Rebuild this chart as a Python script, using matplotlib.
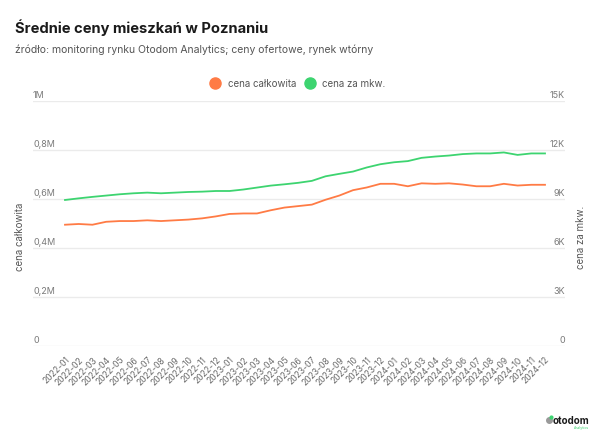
import matplotlib
matplotlib.use("Agg")
import matplotlib.pyplot as plt
import matplotlib.transforms as mtransforms
from matplotlib.lines import Line2D

months = [f"{y}-{m:02d}" for y in (2022, 2023, 2024) for m in range(1, 13)]

total_price = [0.495, 0.498, 0.495, 0.507, 0.510, 0.510, 0.513, 0.510, 0.513, 0.516,
               0.521, 0.529, 0.539, 0.541, 0.541, 0.554, 0.565, 0.571, 0.577, 0.597,
               0.614, 0.636, 0.647, 0.662, 0.662, 0.652, 0.664, 0.662, 0.664, 0.659,
               0.652, 0.652, 0.662, 0.655, 0.658, 0.658]
total_price = [v * 1e6 for v in total_price]

price_sqm = [8.94, 9.04, 9.13, 9.21, 9.29, 9.35, 9.39, 9.35, 9.39, 9.43,
             9.45, 9.49, 9.49, 9.58, 9.70, 9.82, 9.90, 9.99, 10.11, 10.39,
             10.54, 10.68, 10.93, 11.13, 11.25, 11.32, 11.52, 11.60, 11.66, 11.75,
             11.79, 11.79, 11.85, 11.70, 11.79, 11.79]
price_sqm = [v * 1000 for v in price_sqm]

left_ticks = [0, 200000, 400000, 600000, 800000, 1000000]
left_labels = ["0", "0,2M", "0,4M", "0,6M", "0,8M", "1M"]
right_ticks = [0, 3000, 6000, 9000, 12000, 15000]
right_labels = ["0", "3K", "6K", "9K", "12K", "15K"]

title = "Średnie ceny mieszkań w Poznaniu"
subtitle = "źródło: monitoring rynku Otodom Analytics; ceny ofertowe, rynek wtórny"
series_names = ["cena całkowita", "cena za mkw."]
colors = ["#FF7B45", "#3DD470"]

plt.rcParams['font.family'] = ['Inter', 'DejaVu Sans']

W, H = 600, 435
fig = plt.figure(figsize=(6, 4.35), dpi=100)
ax = fig.add_axes([33 / W, 1 - 347 / H, (565 - 33) / W, (347 - 102) / H])
ax2 = ax.twinx()

x = list(range(len(months)))
ax.plot(x, total_price, color=colors[0], lw=1.3, zorder=3)
ax2.plot(x, price_sqm, color=colors[1], lw=1.3, zorder=3)

ax.set_xlim(-32 / 13.714, 35 + 20 / 13.714)
ax.set_ylim(0, 1000000)
ax2.set_ylim(0, 15000)

for a in (ax, ax2):
    for s in a.spines.values():
        s.set_visible(False)
    a.tick_params(axis='y', length=0, labelleft=False, labelright=False)
    a.set_yticks([])

for t in left_ticks:
    ax.axhline(t, color="#EBEBEB", lw=1, zorder=1)

tick_col = "#7A7A7A"
off = mtransforms.ScaledTranslation(0, 1.5 / 72, fig.dpi_scale_trans)
trL = mtransforms.blended_transform_factory(ax.transAxes, ax.transData)
for t, lab in zip(left_ticks, left_labels):
    ax.text(0.0, t, lab, transform=trL + off,
            ha='left', va='bottom', fontsize=6.5, color=tick_col)
trR = mtransforms.blended_transform_factory(ax2.transAxes, ax2.transData)
for t, lab in zip(right_ticks, right_labels):
    ax2.text(1.0, t, lab, transform=trR + off,
             ha='right', va='bottom', fontsize=6.5, color=tick_col)

ax.set_xticks(x)
ax.set_xticklabels(months, rotation=45, ha='right', rotation_mode='anchor',
                   fontsize=6.2, color="#6A6A6A")
ax.tick_params(axis='x', length=0, pad=6)

fig.text(15 / W, 1 - 28 / H, title, fontsize=10.6, fontweight='bold', color="#1A1A1A",
         ha='left', va='center')
fig.text(15 / W, 1 - 50 / H, subtitle, fontsize=7.5, color="#555555", ha='left', va='center')

for cx, tx, name, c in [(215, 228, series_names[0], colors[0]), (310, 322, series_names[1], colors[1])]:
    fig.lines.append(Line2D([cx / W], [1 - 84 / H], marker='o', markersize=8, color=c,
                            linestyle='none', transform=fig.transFigure, figure=fig))
    fig.text(tx / W, 1 - 84 / H, name, fontsize=7, color="#555555", ha='left', va='center')

fig.text(20 / W, 1 - 237 / H, series_names[0], rotation=90, fontsize=7, color="#555555",
         ha='center', va='center')
fig.text(581 / W, 1 - 237 / H, series_names[1], rotation=90, fontsize=7, color="#555555",
         ha='center', va='center')

# logo
fig.lines.append(Line2D([549 / W], [1 - 421 / H], marker='o', markersize=4, color="#9A9A9A",
                        linestyle='none', transform=fig.transFigure, figure=fig))
fig.lines.append(Line2D([551 / W], [1 - 418 / H], marker='o', markersize=2, color="#3DD470",
                        linestyle='none', transform=fig.transFigure, figure=fig))
fig.text(553 / W, 1 - 421 / H, "otodom", fontsize=7, fontweight='bold', color="#1A1A1A",
         ha='left', va='center')
fig.text(589 / W, 1 - 428 / H, "Analytics", fontsize=2.5, color="#3DD470", ha='right', va='center')

fig.savefig("out.png", dpi=100)
